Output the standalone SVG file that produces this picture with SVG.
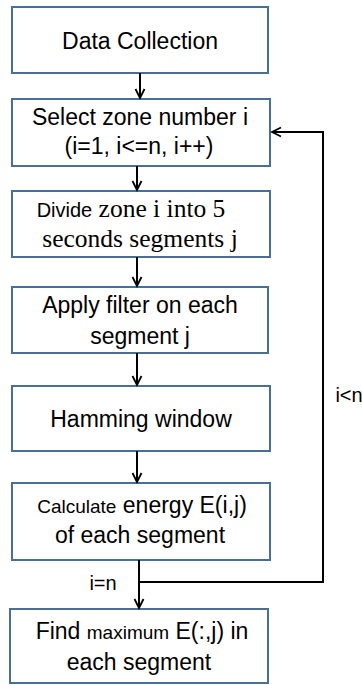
<svg xmlns="http://www.w3.org/2000/svg" width="362" height="685" viewBox="0 0 362 685">
<defs>
<marker id="ah" markerWidth="12" markerHeight="12" refX="10" refY="6" orient="auto" markerUnits="userSpaceOnUse">
<path d="M1,1.5 L10,6 L1,10.5" fill="none" stroke="#000" stroke-width="1.8"/>
</marker>
<style>
.box{fill:#fff;stroke:#4a6f96;stroke-width:2}
.t{font-family:"Liberation Sans",Arial,sans-serif;font-size:23px;fill:#000;text-anchor:middle}
.s{font-family:"Liberation Serif","Times New Roman",serif;font-size:25.5px}
.sm{font-size:19px}
.c{stroke:#000;stroke-width:2;fill:none}
</style>
</defs>
<rect width="362" height="685" fill="#fff"/>
<g id="n1"><rect class="box" x="12" y="7" width="256" height="66"/><text class="t" x="140" y="49">Data Collection</text></g>
<g id="n2"><rect class="box" x="12" y="99" width="258" height="67"/><text class="t" x="140" y="125">Select zone number i</text><text class="t" x="139" y="154">(i=1, i&lt;=n, i++)</text></g>
<g id="n3"><rect class="box" x="12" y="191" width="258" height="66"/><text class="t" x="131" y="217"><tspan style="font-size:20px">Divide</tspan><tspan class="s"> zone i into 5</tspan></text><text class="t s" x="140" y="247">seconds segments j</text></g>
<g id="n4"><rect class="box" x="12" y="287" width="256" height="66"/><text class="t" x="140" y="313">Apply filter on each</text><text class="t" x="140" y="344">segment j</text></g>
<g id="n5"><rect class="box" x="12" y="386" width="258" height="65"/><text class="t" x="141" y="427">Hamming window</text></g>
<g id="n6"><rect class="box" x="12" y="483" width="258" height="77"/><text class="t" x="142" y="513"><tspan class="sm">Calculate</tspan> energy E(i,j)</text><text class="t" x="140" y="543">of each segment</text></g>
<g id="n7"><rect class="box" x="10" y="609" width="258" height="74"/><text class="t" x="142" y="639">Find <tspan class="sm">maximum</tspan> E(:,j) in</text><text class="t" x="139" y="670">each segment</text></g>
<g id="connectors">
<line class="c" x1="140" y1="73" x2="140" y2="98" marker-end="url(#ah)"/>
<line class="c" x1="137" y1="166" x2="137" y2="190" marker-end="url(#ah)"/>
<line class="c" x1="137" y1="257" x2="137" y2="286" marker-end="url(#ah)"/>
<line class="c" x1="137" y1="353" x2="137" y2="385" marker-end="url(#ah)"/>
<line class="c" x1="137" y1="451" x2="137" y2="482" marker-end="url(#ah)"/>
<line class="c" x1="139" y1="560" x2="139" y2="608" marker-end="url(#ah)"/>
<polyline class="c" points="139,582 323,582 323,132 272,132" marker-end="url(#ah)"/>
<text class="t" x="103" y="590" style="font-size:20px">i=n</text>
<text class="t" x="349" y="402" style="font-size:20px">i&lt;n</text>
</g>
</svg>
